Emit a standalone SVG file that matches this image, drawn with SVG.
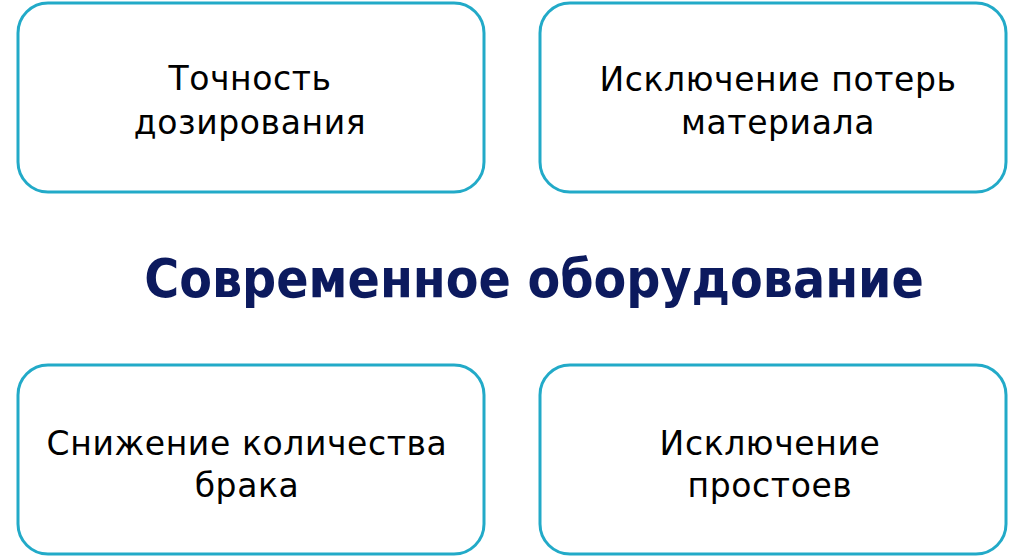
<svg xmlns="http://www.w3.org/2000/svg" width="1024" height="558" viewBox="0 0 1024 558">
<style>
.box{fill:#ffffff;stroke:#22aac8;stroke-width:3}
.lbl{font-family:"DejaVu Sans","Liberation Sans",sans-serif;font-size:33px;letter-spacing:0.6px;fill:#000000;text-anchor:middle}
.title{font-family:"DejaVu Sans Condensed","DejaVu Sans","Liberation Sans",sans-serif;font-stretch:condensed;font-weight:bold;font-size:53px;fill:#0c1a5e;text-anchor:middle}
</style>
<rect width="1024" height="558" fill="#ffffff"/>
<g id="connectors"></g>
<g id="node-tochnost">
<rect class="box" x="18" y="3" width="466" height="189" rx="30"/>
<text class="lbl" x="250" y="90">Точность</text>
<text class="lbl" x="250" y="134">дозирования</text>
</g>
<g id="node-poteri">
<rect class="box" x="540" y="3" width="466" height="189" rx="30"/>
<text class="lbl" x="778" y="91">Исключение потерь</text>
<text class="lbl" x="778" y="134">материала</text>
</g>
<g id="node-title">
<text class="title" x="534" y="297">Современное оборудование</text>
</g>
<g id="node-brak">
<rect class="box" x="18" y="365" width="466" height="189" rx="30"/>
<text class="lbl" x="247" y="455">Снижение количества</text>
<text class="lbl" x="247" y="497">брака</text>
</g>
<g id="node-prostoi">
<rect class="box" x="540" y="365" width="466" height="189" rx="30"/>
<text class="lbl" x="770" y="455">Исключение</text>
<text class="lbl" x="770" y="497">простоев</text>
</g>
</svg>
